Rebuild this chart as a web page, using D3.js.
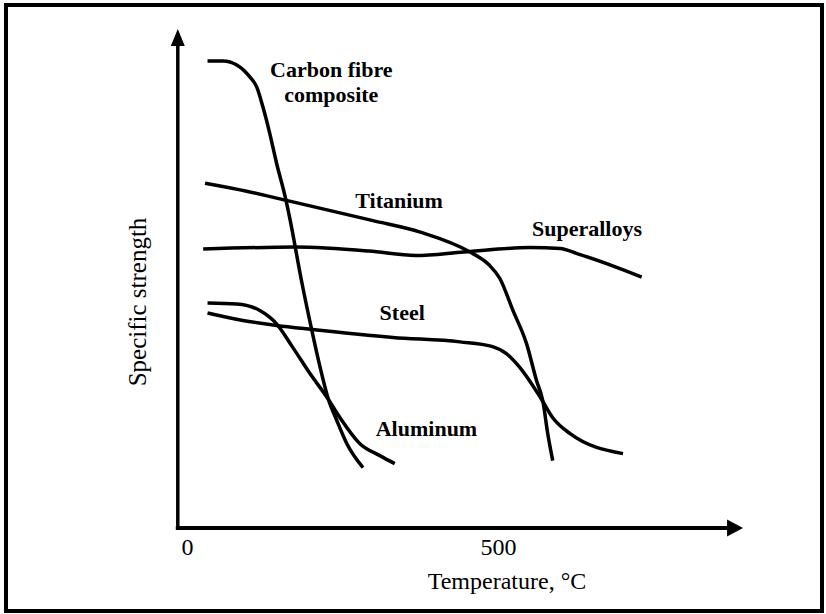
<!DOCTYPE html>
<html>
<head>
<meta charset="utf-8">
<script src="https://cdn.jsdelivr.net/npm/d3@7/dist/d3.min.js"></script>
<style>
  html, body { margin: 0; padding: 0; background: #fff; }
  svg { display: block; }
</style>
</head>
<body>
<svg id="chart" width="826" height="614"></svg>
<script>
// ---- data (temperature in °C, specific strength in arbitrary units 0–100) ----
const tempTicks = [0, 500];
const xTitle = "Temperature, °C";
const yTitle = "Specific strength";
const axisExtentT = [-18, 894];
const axisExtentS = [0, 100];

const carbonT = [33, 58, 80, 101, 112, 122, 133, 144, 158, 166, 184, 200, 214, 227, 241, 257, 283];
const carbonS = [93.6, 93.6, 92.8, 90.4, 88.4, 84.4, 79.1, 73.1, 66.3, 61.6, 49.6, 40.0, 32.2, 25.9, 21.5, 16.9, 12.1];

const titaniumT = [29, 96, 158, 299, 375, 455, 485, 503, 524, 546, 562, 572, 580, 588];
const titaniumS = [69.1, 67.5, 65.7, 61.6, 59.3, 55.3, 52.8, 50.0, 43.6, 36.9, 29.5, 25.5, 18.9, 13.5];

const superT = [26, 174, 293, 368, 445, 551, 600, 627, 696, 731];
const superS = [55.9, 56.3, 55.5, 54.6, 55.3, 56.2, 56.0, 55.0, 52.0, 50.3];

const steelT = [33, 90, 144, 201, 331, 439, 490, 514, 535, 568, 588, 616, 701];
const steelS = [43.1, 41.6, 40.6, 39.8, 38.2, 37.3, 36.4, 34.9, 32.2, 26.2, 22.1, 18.9, 14.9];

const aluT = [33, 80, 117, 142, 170, 198, 225, 246, 278, 310, 334];
const aluS = [45.1, 44.9, 43.6, 41.2, 36.2, 30.9, 26.2, 22.1, 16.9, 14.5, 12.9];

const labelLines = [["Carbon fibre", "composite"], ["Titanium"], ["Superalloys"], ["Steel"], ["Aluminum"]];
const labelT = [232, 341, 643, 346, 385];
const labelS = [90.4, 64.1, 58.6, 41.6, 18.5];

// ---- drawing ----
const svg = d3.select("#chart");
const W = 826, H = 614;

// frame
svg.append("rect")
  .attr("x", 6).attr("y", 5)
  .attr("width", W - 10).attr("height", H - 8)
  .attr("fill", "none").attr("stroke", "#000").attr("stroke-width", 4);

const x = d3.scaleLinear().domain([0, 500]).range([187, 498]);
const y = d3.scaleLinear().domain([0, 100]).range([528, 29]);

const series = [
  carbonT.map((t, i) => [t, carbonS[i]]),
  titaniumT.map((t, i) => [t, titaniumS[i]]),
  superT.map((t, i) => [t, superS[i]]),
  steelT.map((t, i) => [t, steelS[i]]),
  aluT.map((t, i) => [t, aluS[i]])
];

const line = d3.line()
  .x(d => x(d[0])).y(d => y(d[1]))
  .curve(d3.curveMonotoneX);

svg.append("g").selectAll("path")
  .data(series).join("path")
  .attr("d", line)
  .attr("fill", "none")
  .attr("stroke", "#000")
  .attr("stroke-width", 3.5)
  .attr("stroke-linejoin", "round");

// axes with arrows
const x0 = x(axisExtentT[0]), x1 = x(axisExtentT[1]);
const yb = y(axisExtentS[0]), yt = y(axisExtentS[1]);
const ax = x(axisExtentT[0]) + 2;
const arrowLen = 16, arrowHalf = 8.5;

svg.append("line")
  .attr("x1", x0).attr("y1", yb).attr("x2", x1 - arrowLen + 1).attr("y2", yb)
  .attr("stroke", "#000").attr("stroke-width", 4);
svg.append("path")
  .attr("d", `M${x1},${yb} L${x1 - arrowLen},${yb - arrowHalf} L${x1 - arrowLen},${yb + arrowHalf} Z`)
  .attr("fill", "#000");

svg.append("line")
  .attr("x1", ax).attr("y1", yb + 2).attr("x2", ax).attr("y2", yt + arrowLen - 1)
  .attr("stroke", "#000").attr("stroke-width", 3.5);
svg.append("path")
  .attr("d", `M${ax},${yt} L${ax - 7},${yt + arrowLen + 1} L${ax + 7},${yt + arrowLen + 1} Z`)
  .attr("fill", "#000");

// tick labels
const xAxis = d3.axisBottom(x).tickValues(tempTicks).tickSize(0).tickPadding(0).tickFormat(d3.format("d"));
const gx = svg.append("g").attr("transform", `translate(0,${yb + 10})`).call(xAxis);
gx.select(".domain").remove();
gx.selectAll("text")
  .attr("font-family", "'Liberation Serif', 'Times New Roman', serif")
  .attr("font-size", 24).attr("fill", "#000")
  .attr("dy", "0.71em");

// axis titles
svg.append("text")
  .attr("x", 507).attr("y", 589)
  .attr("text-anchor", "middle")
  .attr("font-family", "'Liberation Serif', 'Times New Roman', serif")
  .attr("font-size", 24).attr("fill", "#000")
  .text(xTitle);

svg.append("text")
  .attr("transform", "translate(146,302) rotate(-90)")
  .attr("text-anchor", "middle")
  .attr("font-family", "'Liberation Serif', 'Times New Roman', serif")
  .attr("font-size", 25).attr("fill", "#000")
  .text(yTitle);

// series labels
const lbl = svg.append("g")
  .attr("font-family", "'Liberation Serif', 'Times New Roman', serif")
  .attr("font-weight", "bold").attr("font-size", 22)
  .attr("text-anchor", "middle").attr("fill", "#000");

labelLines.forEach((lines, i) => {
  const t = lbl.append("text").attr("x", x(labelT[i])).attr("y", y(labelS[i]));
  lines.forEach((s, j) => {
    t.append("tspan").attr("x", x(labelT[i])).attr("dy", j === 0 ? 0 : 25).text(s);
  });
});
</script>
</body>
</html>
